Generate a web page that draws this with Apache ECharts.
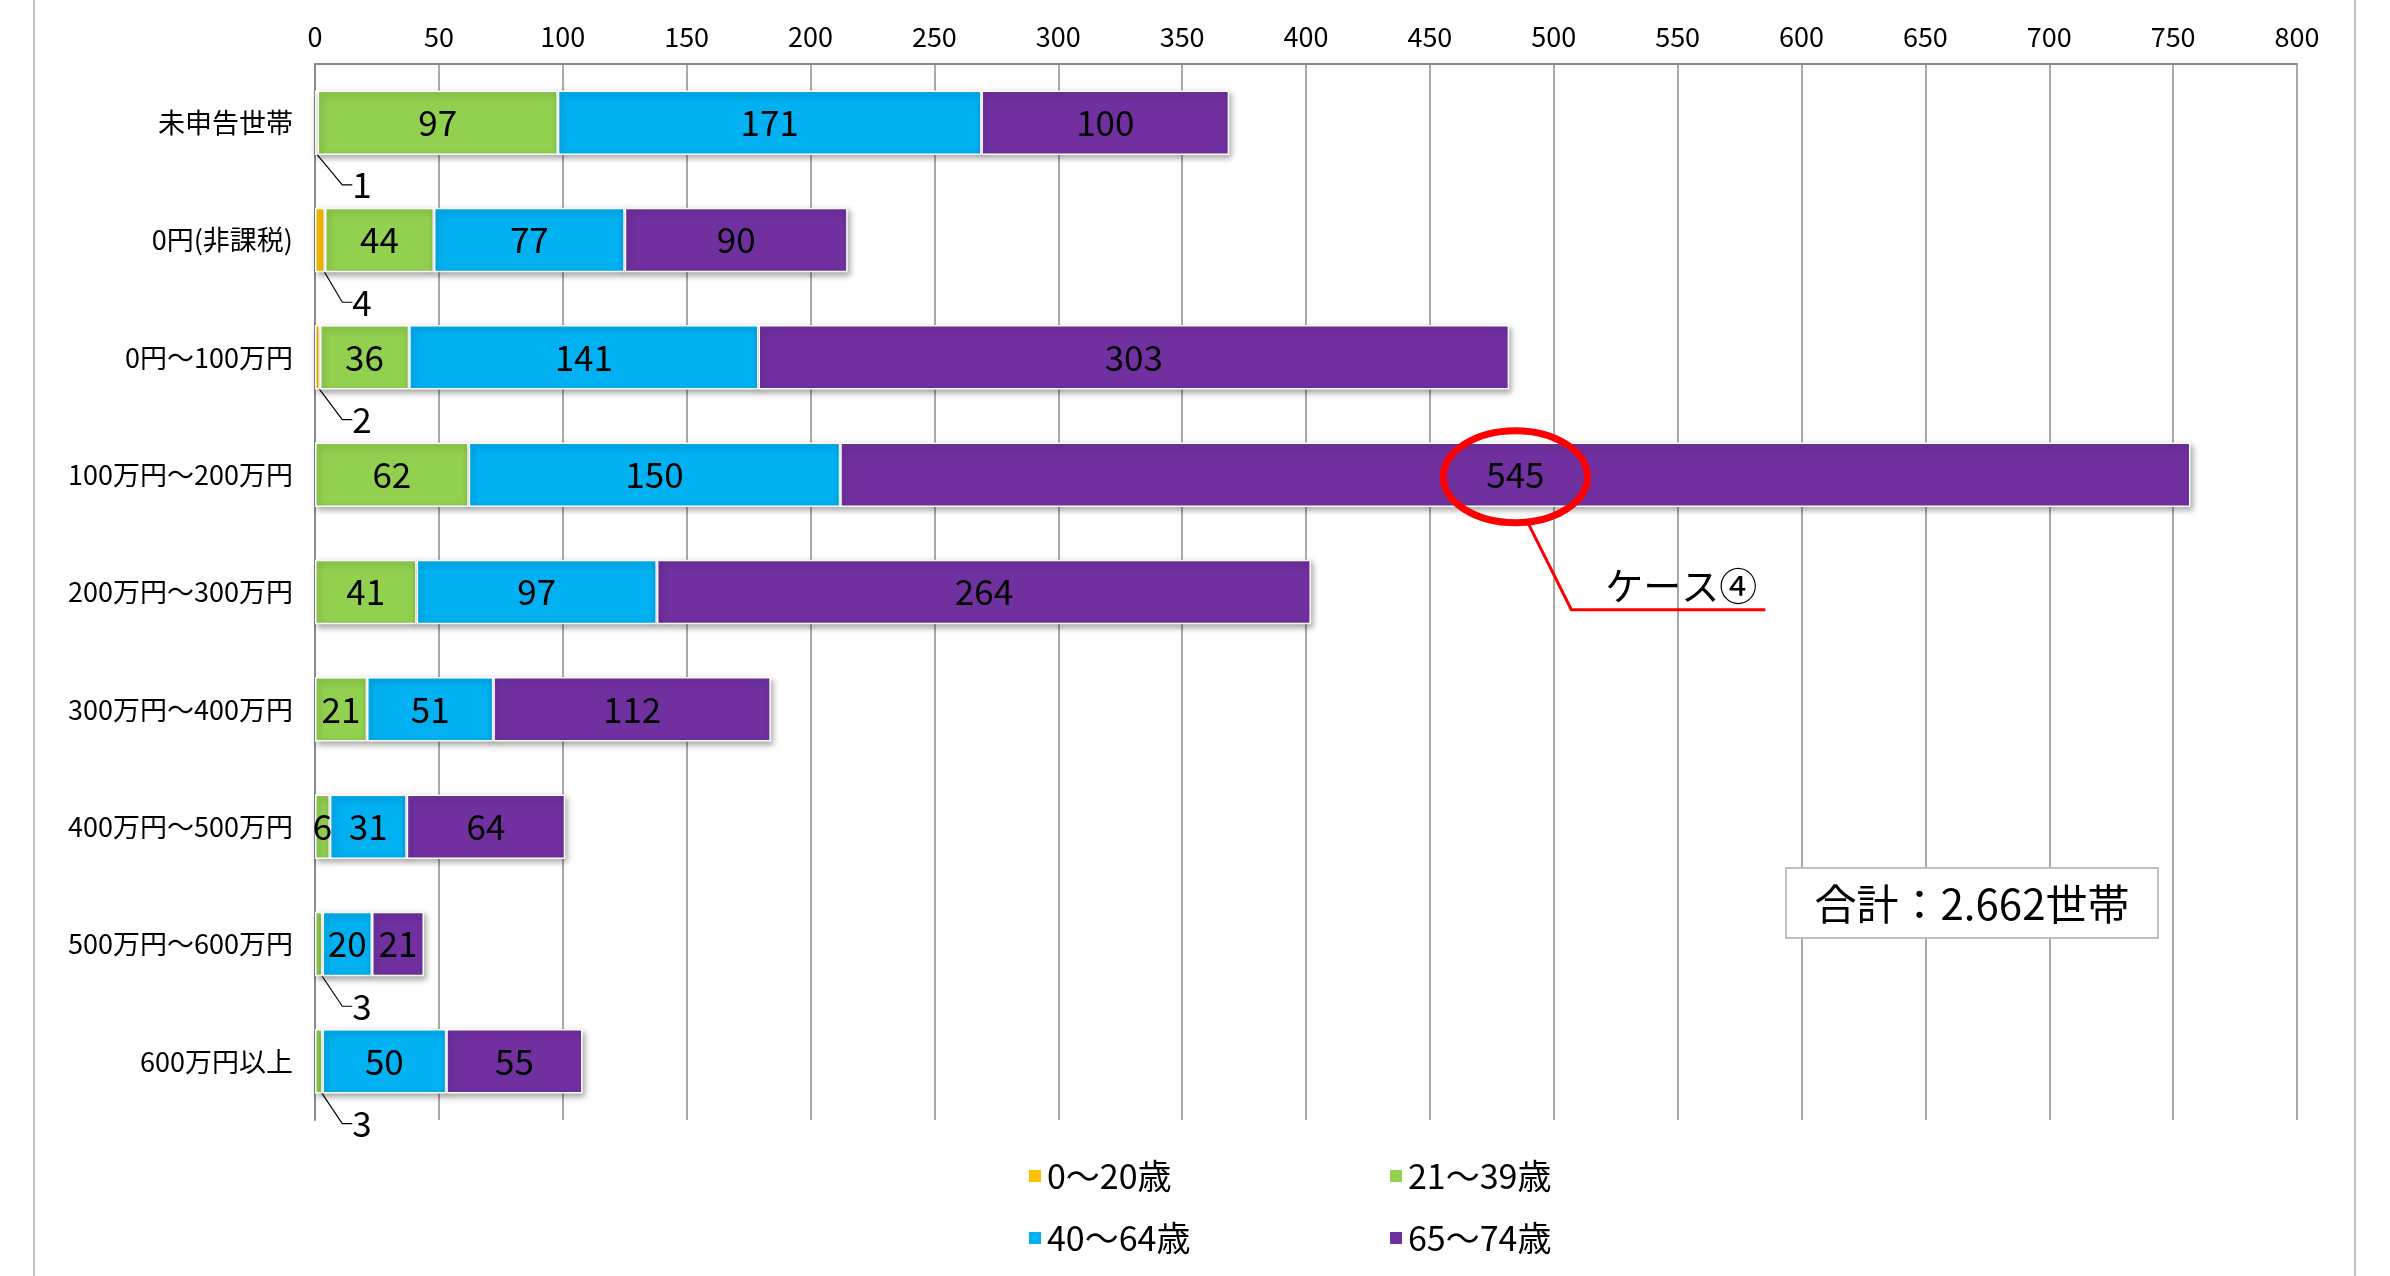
<!DOCTYPE html>
<html><head><meta charset="utf-8">
<script src="https://cdn.jsdelivr.net/npm/echarts@6/dist/echarts.min.js"></script>
<style>html,body{margin:0;padding:0;background:#fff;} #c{width:2390px;height:1276px;}</style>
</head><body><div id="c"></div>
<script>
const categories = ['未申告世帯','0円(非課税)','0円～100万円','100万円～200万円','200万円～300万円','300万円～400万円','400万円～500万円','500万円～600万円','600万円以上'];
const seriesNames = ['0～20歳','21～39歳','40～64歳','65～74歳'];
const age0_20  = [1, 4, 2, 0, 0, 0, 0, 0, 0];
const age21_39 = [97, 44, 36, 62, 41, 21, 6, 3, 3];
const age40_64 = [171, 77, 141, 150, 97, 51, 31, 20, 50];
const age65_74 = [100, 90, 303, 545, 264, 112, 64, 21, 55];
const xMin = 0, xMax = 800, xInterval = 50;
const colors = ['#FFC000', '#92D050', '#00B0F0', '#7030A0'];
const totalText = '合計：2.662世帯';
const calloutText = 'ケース④';
const calloutCategoryIndex = 3;

const FONT = '"Noto Sans CJK JP", "Noto Sans", sans-serif';
const allValues = [age0_20, age21_39, age40_64, age65_74];
const SMALL = 4;

const series = allValues.map((vals, si) => ({
  name: seriesNames[si],
  type: 'bar',
  stack: 'total',
  barWidth: '55%',
  itemStyle: {
    color: colors[si], borderColor: '#fff', borderWidth: 1.5,
    shadowColor: 'rgba(0,0,0,0.35)', shadowBlur: 6, shadowOffsetX: 2, shadowOffsetY: 3
  },
  label: { show: true, position: 'inside', color: '#000', fontSize: 35, fontFamily: FONT },
  labelLine: { show: false },
  data: vals.map(v => {
    if (v === 0) return { value: v, label: { show: false }, itemStyle: { opacity: 0 } };
    if (v <= SMALL) return { value: v, labelLine: { show: true, length2: 10, lineStyle: { color: '#000', width: 1.2 } } };
    return v;
  }),
  labelLayout: function (p) {
    const v = allValues[si][p.dataIndex];
    if (v > 0 && v <= SMALL) {
      return { x: p.rect.x + 47, y: p.rect.y + p.rect.height + 30, align: 'center', verticalAlign: 'middle' };
    }
    return {};
  }
}));

const legendCommon = {
  left: 1022, icon: 'rect', itemWidth: 14, itemHeight: 14, itemGap: 191,
  selectedMode: false,
  textStyle: { fontSize: 34, color: '#000', fontFamily: FONT, width: 150, lineHeight: 40 }
};

const chart = echarts.init(document.getElementById('c'));
chart.setOption({
  animation: false,
  backgroundColor: '#fff',
  grid: { left: 315, right: 93, top: 64, bottom: 156, containLabel: false },
  xAxis: {
    type: 'value', position: 'top', min: xMin, max: xMax, interval: xInterval,
    axisLine: { show: true, lineStyle: { color: '#8a8a8a', width: 2 } },
    axisTick: { show: false },
    axisLabel: { color: '#000', fontSize: 27, fontFamily: FONT, margin: 14 },
    splitLine: { show: true, lineStyle: { color: '#8c8c8c', width: 1.5 } }
  },
  yAxis: {
    type: 'category', inverse: true, data: categories,
    axisLine: { show: true, lineStyle: { color: '#8a8a8a', width: 2 } },
    axisTick: { show: false },
    axisLabel: { color: '#000', fontSize: 27, fontFamily: FONT, margin: 22 }
  },
  legend: [
    Object.assign({}, legendCommon, { top: 1151, data: [seriesNames[0], seriesNames[1]] }),
    Object.assign({}, legendCommon, { top: 1213, data: [seriesNames[2], seriesNames[3]] })
  ],
  series: series
});

// annotations
const segCenter = age0_20[calloutCategoryIndex] + age21_39[calloutCategoryIndex] + age40_64[calloutCategoryIndex] + age65_74[calloutCategoryIndex] / 2;
const p = chart.convertToPixel({ xAxisIndex: 0, yAxisIndex: 0 }, [segCenter, calloutCategoryIndex]);
const cx = p[0], cy = p[1] + 2;
chart.setOption({
  graphic: [
    { type: 'line', z: 100, shape: { x1: 34, y1: 0, x2: 34, y2: 1276 }, style: { stroke: '#c0c0c0', lineWidth: 2 } },
    { type: 'line', z: 100, shape: { x1: 2355, y1: 0, x2: 2355, y2: 1276 }, style: { stroke: '#c0c0c0', lineWidth: 2 } },
    { type: 'ellipse', z: 100, shape: { cx: cx, cy: cy, rx: 72, ry: 46 }, style: { fill: null, stroke: '#FF0000', lineWidth: 7 } },
    { type: 'polyline', z: 100, shape: { points: [[cx + 13, cy + 47], [cx + 56, cy + 133], [cx + 250, cy + 133]] }, style: { fill: null, stroke: '#FF0000', lineWidth: 3 } },
    { type: 'text', z: 100, x: cx + 90, y: cy + 109, style: { text: calloutText, fill: '#000', font: '38px ' + FONT, textVerticalAlign: 'middle', verticalAlign: 'middle' } },
    { type: 'rect', z: 100, shape: { x: 1786, y: 868, width: 372, height: 70 }, style: { fill: '#fff', stroke: '#c0c0c0', lineWidth: 2 } },
    { type: 'text', z: 101, x: 1972, y: 904, style: { text: totalText, fill: '#000', font: '42px ' + FONT, align: 'center', verticalAlign: 'middle', textAlign: 'center', textVerticalAlign: 'middle' } }
  ]
});
</script>
</body></html>
